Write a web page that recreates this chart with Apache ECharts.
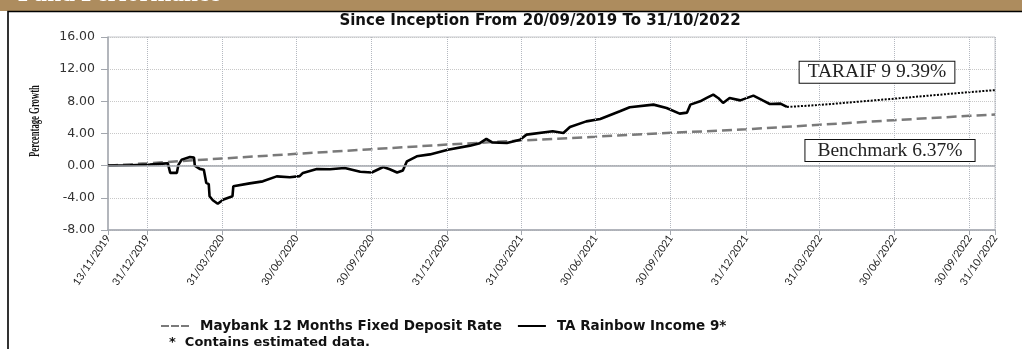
<!DOCTYPE html>
<html>
<head>
<meta charset="utf-8">
<script src="https://cdn.jsdelivr.net/npm/echarts@6/dist/echarts.min.js"></script>
<style>
  html, body { margin: 0; padding: 0; background: #fff; }
  #chart { width: 1022px; height: 349px; }
</style>
</head>
<body>
<div id="chart"></div>
<script>
// Axis ticks on the date axis
const tickDates = ['2019-11-13', '2019-12-31', '2020-03-31', '2020-06-30', '2020-09-30',
  '2020-12-31', '2021-03-31', '2021-06-30', '2021-09-30', '2021-12-31',
  '2022-03-31', '2022-06-30', '2022-09-30', '2022-10-31'];
const yMin = -8, yMax = 16, yStep = 4;

// Maybank 12 Months Fixed Deposit Rate (cumulative %)
const benchDates = ['2019-11-13', '2019-12-31', '2020-03-31', '2020-06-30', '2020-09-30',
  '2020-12-31', '2021-03-31', '2021-06-30', '2021-09-30', '2021-12-31',
  '2022-03-31', '2022-06-30', '2022-09-30', '2022-10-31'];
const benchValues = [0, 0.30, 0.89, 1.47, 2.05, 2.62, 3.13, 3.60, 4.08, 4.52, 5.09, 5.66, 6.20, 6.37];

// TA Rainbow Income 9 (cumulative %), published prices
const fundDates = ['2019-11-13', '2019-12-10', '2020-01-03', '2020-01-19', '2020-01-25', '2020-01-28',
  '2020-02-05', '2020-02-07', '2020-02-11', '2020-02-21', '2020-02-26', '2020-02-27', '2020-03-04',
  '2020-03-09', '2020-03-12', '2020-03-15', '2020-03-16', '2020-03-20', '2020-03-26', '2020-04-02',
  '2020-04-13', '2020-04-14', '2020-05-04', '2020-05-20', '2020-06-06', '2020-06-22', '2020-07-04',
  '2020-07-08', '2020-07-25', '2020-08-10', '2020-08-28', '2020-09-16', '2020-09-30', '2020-10-14',
  '2020-10-22', '2020-10-31', '2020-11-07', '2020-11-12', '2020-11-24', '2020-12-10', '2021-01-01',
  '2021-01-28', '2021-02-09', '2021-02-17', '2021-02-24', '2021-03-14', '2021-03-30', '2021-04-07',
  '2021-05-09', '2021-05-22', '2021-05-30', '2021-06-19', '2021-07-06', '2021-07-30', '2021-08-11',
  '2021-09-09', '2021-09-25', '2021-10-11', '2021-10-20', '2021-10-24', '2021-11-05', '2021-11-13',
  '2021-11-21', '2021-11-27', '2021-12-03', '2021-12-11', '2021-12-24', '2022-01-09', '2022-01-21',
  '2022-01-29', '2022-02-11', '2022-02-19'];
const fundValues = [0, 0.05, 0.15, 0.25, 0.30, -0.90,
  -0.90, 0.10, 0.75, 1.08, 1.00, 0.00, -0.40,
  -0.50, -2.15, -2.30, -3.80, -4.30, -4.73, -4.20,
  -3.80, -2.57, -2.20, -1.95, -1.33, -1.45, -1.30,
  -0.90, -0.41, -0.45, -0.30, -0.75, -0.85, -0.17,
  -0.45, -0.85, -0.60, 0.54, 1.16, 1.40, 1.99,
  2.49, 2.80, 3.32, 2.90, 2.82, 3.23, 3.86,
  4.27, 4.06, 4.81, 5.51, 5.80, 6.76, 7.26,
  7.59, 7.17, 6.47, 6.60, 7.59, 8.00, 8.42,
  8.83, 8.42, 7.80, 8.42, 8.12, 8.71, 8.08,
  7.67, 7.71, 7.30];

// Estimated portion of the fund series
const estDates = ['2022-02-19', '2022-03-31', '2022-06-30', '2022-09-30', '2022-10-31'];
const estValues = [7.30, 7.55, 8.33, 9.15, 9.39];

const fundName = 'TA Rainbow Income 9*';
const benchName = 'Maybank 12 Months Fixed Deposit Rate';

function toTime(s) {
  const p = s.split('-').map(Number);
  return Date.UTC(p[0], p[1] - 1, p[2]);
}
function pad(n) { return (n < 10 ? '0' : '') + n; }
function fmtDate(v) {
  const d = new Date(v);
  return pad(d.getUTCDate()) + '/' + pad(d.getUTCMonth() + 1) + '/' + d.getUTCFullYear();
}
function pairs(dates, values) {
  return dates.map((d, i) => [toTime(d), values[i]]);
}

const tickTimes = tickDates.map(toTime);
const benchLast = benchValues[benchValues.length - 1];
const fundLast = estValues[estValues.length - 1];
const lastTime = toTime(estDates[estDates.length - 1]);

// Legend keys: a three-dash bar and a plain bar
const dashIcon = 'path://M0,0h8v2h-8z M10,0h8v2h-8z M20,0h8v2h-8z';
const solidIcon = 'path://M0,0h28v2h-28z';

const chart = echarts.init(document.getElementById('chart'), null, { renderer: 'canvas' });

chart.setOption({
  backgroundColor: '#fff',
  animation: false,
  title: [
    {
      text: 'Since Inception From 20/09/2019 To 31/10/2022',
      left: 535, top: 9, textAlign: 'center',
      textStyle: { fontFamily: 'DejaVu Sans', fontWeight: 'bold', fontSize: 15, color: '#111' }
    },
    {
      text: '*  Contains estimated data.',
      left: 164, top: 331,
      textStyle: { fontFamily: 'DejaVu Sans', fontWeight: 'bold', fontSize: 13, color: '#111' }
    }
  ],
  graphic: [
    { type: 'rect', shape: { x: 0, y: 0, width: 1022, height: 11 }, style: { fill: '#ad8c5e' }, silent: true },
    { type: 'text', x: 18, y: 7,
      style: { text: 'Fund Performance', font: 'bold 25px "Liberation Serif"', fill: '#fff', verticalAlign: 'bottom' },
      silent: true },
    { type: 'rect', shape: { x: 8, y: 11.5, width: 1100, height: 400 },
      style: { fill: 'none', stroke: '#000', lineWidth: 1.6 }, silent: true },
    { type: 'text', x: 35, y: 121, rotation: Math.PI / 2, scaleX: 0.58,
      style: { text: 'Percentage Growth', font: 'bold 15px "Liberation Serif"', fill: '#111',
        align: 'center', verticalAlign: 'middle' },
      silent: true }
  ],
  legend: {
    left: 156, top: 314,
    itemWidth: 28, itemHeight: 2, itemGap: 16,
    data: [{ name: benchName, icon: dashIcon }, { name: fundName, icon: solidIcon }],
    textStyle: { fontFamily: 'DejaVu Sans', fontWeight: 'bold', fontSize: 13.5, color: '#111', padding: [0, 0, 0, 6] }
  },
  grid: {
    left: 108, right: 27, top: 37, bottom: 119,
    show: true, borderColor: '#c4c7cc', borderWidth: 1, backgroundColor: 'transparent'
  },
  xAxis: {
    type: 'value',
    min: tickTimes[0], max: tickTimes[tickTimes.length - 1],
    axisLine: { show: true, onZero: false, lineStyle: { color: '#a3a7ae', width: 1.5 } },
    axisTick: { show: true, customValues: tickTimes, length: 5, lineStyle: { color: '#a3a7ae' } },
    axisLabel: {
      customValues: tickTimes, rotate: 56, formatter: fmtDate, margin: 6,
      fontFamily: 'Lato', fontSize: 10.5, color: '#222'
    },
    splitLine: { show: false }
  },
  yAxis: {
    type: 'value', min: yMin, max: yMax, interval: yStep,
    axisLine: { show: true, lineStyle: { color: '#a3a7ae', width: 1.5 } },
    axisTick: { show: true, length: 7, lineStyle: { color: '#a3a7ae' } },
    axisLabel: { formatter: v => v.toFixed(2), margin: 13, fontFamily: 'DejaVu Sans', fontSize: 12.5, color: '#333' },
    splitLine: { show: true, lineStyle: { color: '#c8c8c8', type: 'dotted' } }
  },
  series: [
    {
      name: benchName, type: 'line', showSymbol: false, symbol: 'none',
      data: pairs(benchDates, benchValues),
      lineStyle: { color: '#7a7a7a', width: 2.5, type: [10, 5] },
      itemStyle: { color: '#7a7a7a' },
      markLine: {
        silent: true, symbol: ['none', 'none'], label: { show: false },
        data: tickTimes.slice(1).map(t => ({ xAxis: t, lineStyle: { color: '#b4b8c0', type: 'dotted', width: 1 } }))
          .concat([{ yAxis: 0, lineStyle: { color: '#a3a7ae', type: 'solid', width: 1.5 } }])
      },
      markPoint: {
        silent: true, symbol: 'rect', symbolSize: 1, itemStyle: { color: 'transparent' },
        data: [{
          coord: [lastTime, benchLast],
          label: {
            show: true, position: 'inside', offset: [-105, 36],
            formatter: 'Benchmark ' + benchLast.toFixed(2) + '%',
            fontFamily: 'Liberation Serif', fontSize: 19.5, color: '#222',
            backgroundColor: '#fff', borderColor: '#111', borderWidth: 1, padding: [1, 12, 0, 12]
          }
        }]
      },
      z: 2
    },
    {
      name: fundName, type: 'line', showSymbol: false, symbol: 'none',
      data: pairs(fundDates, fundValues),
      lineStyle: { color: '#000', width: 2.6 },
      itemStyle: { color: '#000' },
      z: 3
    },
    {
      name: fundName, type: 'line', showSymbol: false, symbol: 'none',
      data: pairs(estDates, estValues),
      lineStyle: { color: '#000', width: 2, type: [2, 1.5] },
      itemStyle: { color: '#000' },
      markPoint: {
        silent: true, symbol: 'rect', symbolSize: 1, itemStyle: { color: 'transparent' },
        data: [{
          coord: [lastTime, fundLast],
          label: {
            show: true, position: 'inside', offset: [-118, -18],
            formatter: 'TARAIF 9 ' + fundLast.toFixed(2) + '%',
            fontFamily: 'Liberation Serif', fontSize: 19.5, color: '#222',
            backgroundColor: '#fff', borderColor: '#111', borderWidth: 1, padding: [1, 8, 0, 8]
          }
        }]
      },
      z: 3
    }
  ]
});
</script>
</body>
</html>
